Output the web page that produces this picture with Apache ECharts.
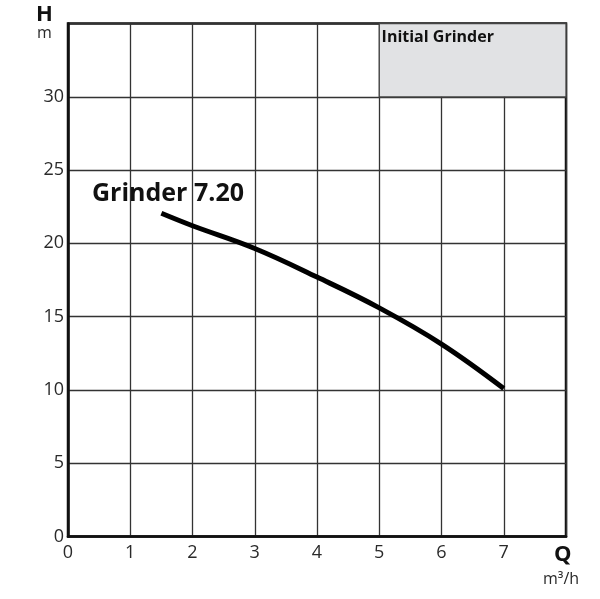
<!DOCTYPE html>
<html><head><meta charset="utf-8">
<script src="https://cdn.jsdelivr.net/npm/echarts@6/dist/echarts.min.js"></script>
<style>html,body{margin:0;padding:0;background:#fff}#c{width:600px;height:599px}</style>
</head><body><div id="c"></div>
<script>
const flowQ = [1.5, 2, 3, 4, 5, 6, 7];
const headH = [22.05, 21.2, 19.65, 17.7, 15.6, 13.13, 10.1];
const seriesName = 'Grinder 7.20';
const zoneName = 'Initial Grinder';
const zoneQ = [5, 8];
const zoneH = [30, 35];

const chart = echarts.init(document.getElementById('c'));
const font = 'Open Sans';
chart.setOption({
  animation: false,
  grid: {left: 68, right: 34, top: 23.5, bottom: 62.5, show: true, borderColor: '#111', borderWidth: 2.5, backgroundColor: 'transparent'},
  xAxis: {
    type: 'value', min: 0, max: 8, interval: 1,
    axisLine: {show: true, lineStyle: {color: '#111', width: 2.5}},
    axisTick: {show: false},
    splitLine: {show: true, lineStyle: {color: '#333', width: 1.3}},
    axisLabel: {color: '#2a2a2a', fontFamily: font, fontSize: 18, margin: 7, showMaxLabel: false}
  },
  yAxis: {
    type: 'value', min: 0, max: 35, interval: 5,
    axisLine: {show: true, lineStyle: {color: '#111', width: 2.5}},
    axisTick: {show: false},
    splitLine: {show: true, lineStyle: {color: '#333', width: 1.3}},
    axisLabel: {color: '#2a2a2a', fontFamily: font, fontSize: 18, margin: 4, showMaxLabel: false}
  },
  series: [{
    name: seriesName, type: 'line', smooth: 0.4, symbol: 'none',
    data: flowQ.map((q, i) => [q, headH[i]]),
    lineStyle: {color: '#000', width: 5},
    markArea: {
      silent: true,
      itemStyle: {color: '#e1e2e4', borderColor: '#444', borderWidth: 1.3},
      label: {show: true, position: 'insideTopLeft', formatter: zoneName, color: '#111', fontFamily: font, fontWeight: 'bold', fontSize: 16, offset: [-2, 2], letterSpacing: -0.5},
      data: [[{coord: [zoneQ[0], zoneH[1]]}, {coord: [zoneQ[1], zoneH[0]]}]]
    }
  }],
  graphic: [
    {type: 'text', left: 92, top: 181, style: {text: seriesName, font: 'bold 25px "Open Sans"', fill: '#111'}},
    {type: 'text', left: 36, top: 4, style: {text: 'H', font: 'bold 22px "Open Sans"', fill: '#111'}},
    {type: 'text', left: 37, top: 25, style: {text: 'm', font: '16px "Open Sans"', fill: '#2a2a2a'}},
    {type: 'text', left: 554, top: 544, style: {text: 'Q', font: 'bold 22px "Open Sans"', fill: '#111'}},
    {type: 'text', left: 543, top: 571, style: {text: 'm³/h', font: '16px "Open Sans"', fill: '#2a2a2a'}}
  ]
});
</script></body></html>
